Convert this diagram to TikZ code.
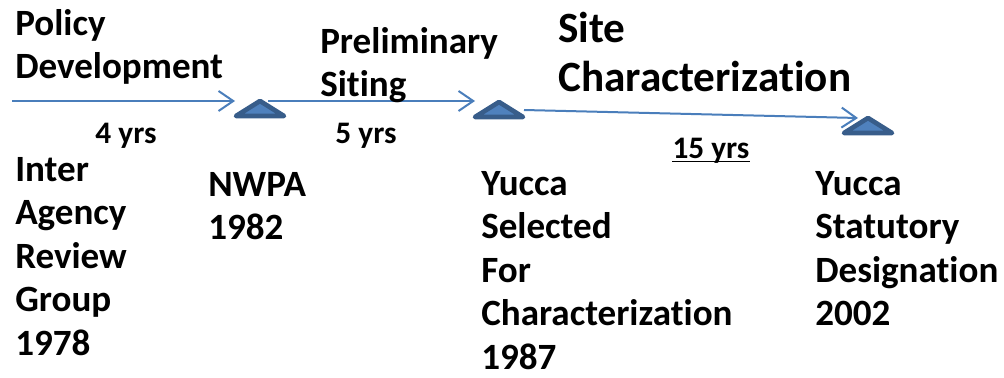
\documentclass[tikz,border=0pt]{standalone}
\usepackage{fontspec}
\setmainfont{Carlito}[Ligatures=NoCommon]
\usetikzlibrary{arrows.meta, positioning}
\definecolor{lineblue}{RGB}{74,126,187}
\definecolor{markfill}{RGB}{79,129,189}
\definecolor{markedge}{RGB}{56,93,138}

\tikzset{
  stage/.style={anchor=base west, align=left, inner sep=0pt,
    font=\bfseries\fontsize{27.8}{32.6}\selectfont},
  phase/.style={stage},
  bigphase/.style={stage, font=\bfseries\fontsize{32.4}{36.8}\selectfont},
  span/.style={anchor=base, inner sep=0pt, font=\bfseries\fontsize{23.5}{28}\selectfont},
  flow/.style={draw=lineblue, line width=1.5pt, -{Straight Barb[length=11pt, width=15pt, line width=1.5pt]}},
  milestone/.style={draw=markedge, fill=markfill, line width=3.5pt, line join=round}
}

\begin{document}
\begin{tikzpicture}[x=0.75pt, y=-0.75pt]
  \useasboundingbox (0,0) rectangle (1004,378);

  % milestones
  \filldraw[milestone] (236,116) -- (260,101) -- (284,116) -- cycle;
  \filldraw[milestone] (475,117) -- (499,102) -- (523,117) -- cycle;
  \filldraw[milestone] (844,133) -- (868,118) -- (892,133) -- cycle;

  \coordinate (s0) at (12,101);
  \coordinate (e1) at (235,101);
  \coordinate (s1) at (268,101);
  \coordinate (e2) at (475,101);
  \coordinate (s2) at (524,110);
  \coordinate (e3) at (858,118);

  \draw[flow] (s0) -- (e1);
  \draw[flow] (s1) -- (e2);
  \draw[flow] (s2) -- (e3);

  % phases above the line (anchored at last baseline)
  \node[phase] (policy) at (15,78.5) {Policy\\Development};
  \node[phase] (prelim) at (320,96.5) {Preliminary\\Siting};
  \node[bigphase] (site) at (558,92) {Site\\Characterization};

  % durations
  \node[span] (y4) at (126,143) {4 yrs};
  \node[span] (y5) at (366,143) {5 yrs};
  \node[span] (y15) at (711,158) {15 yrs};
  \draw[line width=1.4pt] ([yshift=-2.6pt]y15.base west) -- ([yshift=-2.6pt]y15.base east);

  % events below the line
  \node[stage] (iarg) at (15,355) {Inter\\Agency\\Review\\Group\\1978};
  \node[stage] (nwpa) at (208,239.5) {NWPA\\1982};
  \node[stage] (ysel) at (481,369) {Yucca\\Selected\\For\\Characterization\\1987};
  \node[stage] (ydes) at (815,325.5) {Yucca\\Statutory\\Designation\\2002};
\end{tikzpicture}
\end{document}
